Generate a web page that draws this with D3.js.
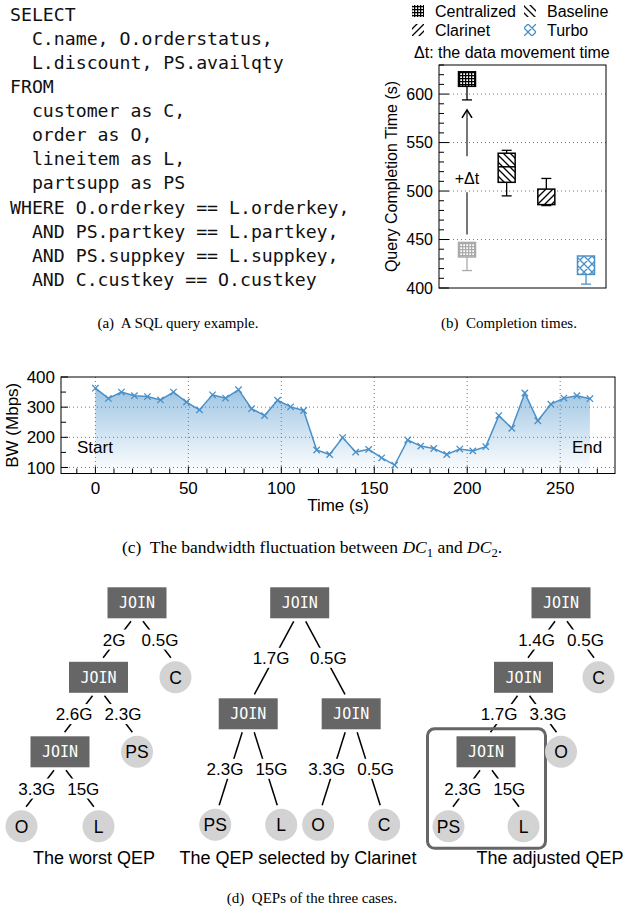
<!DOCTYPE html>
<html><head><meta charset="utf-8">
<script src="https://cdn.jsdelivr.net/npm/d3@7"></script>
<style>body{margin:0;background:#fff} svg{display:block}</style>
</head><body>
<svg id="c" width="624" height="911"></svg>
<script>
// ---------------- DATA ----------------
const sqlLines = [
  "SELECT",
  "  C.name, O.orderstatus,",
  "  L.discount, PS.availqty",
  "FROM",
  "  customer as C,",
  "  order as O,",
  "  lineitem as L,",
  "  partsupp as PS",
  "WHERE O.orderkey == L.orderkey,",
  "  AND PS.partkey == L.partkey,",
  "  AND PS.suppkey == L.suppkey,",
  "  AND C.custkey == O.custkey"
];

// (b) completion times (s)
const boxSeries = ["Centralized", "Baseline", "Clarinet", "Turbo"];
const boxMin = [594, 495, 485, 404];
const boxQ1  = [608, 509, 486, 414];
const boxMed = [null, 525, null, null];
const boxQ3  = [623, 539, 502, 433];
const boxMax = [623, 542, 513, 433];
// Centralized without the data movement time (grey box)
const noMoveMin = 418, noMoveQ1 = 432, noMoveQ3 = 447, noMoveMax = 447;
const boxTicks = [400, 450, 500, 550, 600];
const legendLabels = ["Centralized", "Baseline", "Clarinet", "Turbo"];

// (c) bandwidth fluctuation
const bwTime = [0,7,14,21,28,35,42,49,56,63,70,77,84,91,98,105,112,119,126,133,140,147,154,161,168,175,182,189,196,203,210,217,224,231,238,245,252,259,266];
const bwValue = [363,329,350,338,335,324,350,317,291,341,330,358,295,272,323,301,289,158,143,199,151,160,132,108,191,171,163,143,161,155,169,272,230,347,255,310,330,338,328];
const bwYTicks = [100, 200, 300, 400];
const bwXTicks = [0, 50, 100, 150, 200, 250];

// (d) query execution plans
const worstQEP = {name:"JOIN", children:[
  {name:"JOIN", w:"2G", children:[
    {name:"JOIN", w:"2.6G", children:[{name:"O", w:"3.3G"}, {name:"L", w:"15G"}]},
    {name:"PS", w:"2.3G"}]},
  {name:"C", w:"0.5G"}]};
const clarinetQEP = {name:"JOIN", children:[
  {name:"JOIN", w:"1.7G", children:[{name:"PS", w:"2.3G"}, {name:"L", w:"15G"}]},
  {name:"JOIN", w:"0.5G", children:[{name:"O", w:"3.3G"}, {name:"C", w:"0.5G"}]}]};
const adjustedQEP = {name:"JOIN", children:[
  {name:"JOIN", w:"1.4G", children:[
    {name:"JOIN", w:"1.7G", boxed:true, children:[{name:"PS", w:"2.3G"}, {name:"L", w:"15G"}]},
    {name:"O", w:"3.3G"}]},
  {name:"C", w:"0.5G"}]};
const qepTrees = [worstQEP, clarinetQEP, adjustedQEP];
const qepTitles = ["The worst QEP", "The QEP selected by Clarinet", "The adjusted QEP"];

// ---------------- STYLE ----------------
const SANS = '"Liberation Sans", Arial, Helvetica, sans-serif';
const MONO = '"DejaVu Sans Mono", monospace';
const SERIF = '"Liberation Serif", "Times New Roman", serif';
const BLUE = "#4a90c8";

const svg = d3.select("#c");
const defs = svg.append("defs");

function gridPattern(id, col) {
  const p = defs.append("pattern").attr("id", id).attr("patternUnits", "userSpaceOnUse")
    .attr("width", 3).attr("height", 3);
  p.append("rect").attr("width", 3).attr("height", 3).attr("fill", "#fff");
  p.append("path").attr("d", "M0,0.6H3M0.6,0V3").attr("stroke", col).attr("stroke-width", 1.3);
}
gridPattern("gridBlack", "#000");
gridPattern("gridGrey", "#aaa");
function hatch(id, d, col, size) {
  const p = defs.append("pattern").attr("id", id).attr("patternUnits", "userSpaceOnUse")
    .attr("width", size).attr("height", size);
  p.append("rect").attr("width", size).attr("height", size).attr("fill", "#fff");
  p.append("path").attr("d", d).attr("stroke", col).attr("stroke-width", 1.3).attr("fill", "none");
}
hatch("hatchBack", "M0,0L7,7M-1,6L1,8M6,-1L8,1", "#000", 7);
hatch("hatchFwd", "M0,7L7,0M-1,1L1,-1M6,8L8,6", "#000", 7);
hatch("crossBlue", "M0,0L8,8M0,8L8,0M-1,7L1,9M7,-1L9,1M-1,1L1,-1M7,9L9,7", BLUE, 8);
const boxFills = ["url(#gridBlack)", "url(#hatchBack)", "url(#hatchFwd)", "url(#crossBlue)"];
const boxStrokes = ["#000", "#000", "#000", BLUE];

// ---------------- (a) SQL ----------------
const sqlY = d3.scaleLinear().domain([0, 1]).range([20.7, 44.8]);
svg.append("g").selectAll("text").data(sqlLines).join("text")
  .attr("x", 10).attr("y", (d, i) => sqlY(i))
  .attr("font-family", MONO).attr("font-size", 18.2).attr("fill", "#111")
  .style("white-space", "pre").attr("xml:space", "preserve")
  .text(d => d);

// ---------------- (b) box plot ----------------
const bL = 439, bR = 606, bT = 65, bB = 288;
const yBox = d3.scaleLinear().domain([400, 630]).range([bB, bT]);
const xBox = d3.scalePoint().domain(boxSeries).range([467, 586]);
const gb = svg.append("g");
gb.selectAll("line.grid").data(boxTicks.filter(t => t > 400)).join("line")
  .attr("x1", bL + 10).attr("x2", bR).attr("y1", d => yBox(d)).attr("y2", d => yBox(d))
  .attr("stroke", "#777").attr("stroke-width", 1).attr("stroke-dasharray", "1,3");
gb.selectAll("line.minor").data(d3.range(410, 631, 10).filter(v => v % 50 !== 0)).join("line")
  .attr("x1", bL).attr("x2", bL + 5).attr("y1", d => yBox(d)).attr("y2", d => yBox(d))
  .attr("stroke", "#000");
gb.selectAll("line.major").data(boxTicks).join("line")
  .attr("x1", bL).attr("x2", bL + 10).attr("y1", d => yBox(d)).attr("y2", d => yBox(d))
  .attr("stroke", "#000");
gb.selectAll("text.tick").data(boxTicks).join("text")
  .attr("x", bL - 6).attr("y", d => yBox(d)).attr("dy", "0.36em")
  .attr("text-anchor", "end").attr("font-family", SANS).attr("font-size", 16).text(d => d);
gb.append("rect").attr("x", bL).attr("y", bT).attr("width", bR - bL).attr("height", bB - bT)
  .attr("fill", "none").attr("stroke", "#000").attr("stroke-width", 1);
gb.append("text").attr("transform", `translate(391,${(bT + bB) / 2}) rotate(-90)`)
  .attr("text-anchor", "middle").attr("dy", "0.36em")
  .attr("font-family", SANS).attr("font-size", 16).text("Query Completion Time (s)");

const bw2 = 8.5;
function drawBox(cx, mn, q1, md, q3, mx, fill, stroke) {
  const g = gb.append("g");
  g.append("line").attr("x1", cx).attr("x2", cx).attr("y1", yBox(mn)).attr("y2", yBox(q1))
    .attr("stroke", stroke).attr("stroke-width", 1.3);
  g.append("line").attr("x1", cx - 5).attr("x2", cx + 5).attr("y1", yBox(mn)).attr("y2", yBox(mn))
    .attr("stroke", stroke).attr("stroke-width", 1.3);
  if (mx > q3) {
    g.append("line").attr("x1", cx).attr("x2", cx).attr("y1", yBox(mx)).attr("y2", yBox(q3))
      .attr("stroke", stroke).attr("stroke-width", 1.3);
    g.append("line").attr("x1", cx - 5).attr("x2", cx + 5).attr("y1", yBox(mx)).attr("y2", yBox(mx))
      .attr("stroke", stroke).attr("stroke-width", 1.3);
  }
  g.append("rect").attr("x", cx - bw2).attr("y", yBox(q3)).attr("width", bw2 * 2)
    .attr("height", yBox(q1) - yBox(q3)).attr("fill", fill).attr("stroke", stroke).attr("stroke-width", 1.5);
  if (md != null) g.append("line").attr("x1", cx - bw2).attr("x2", cx + bw2)
    .attr("y1", yBox(md)).attr("y2", yBox(md)).attr("stroke", stroke).attr("stroke-width", 1.5);
}
boxSeries.forEach((s, i) => drawBox(xBox(s), boxMin[i], boxQ1[i], boxMed[i], boxQ3[i], boxMax[i], boxFills[i], boxStrokes[i]));
drawBox(xBox("Centralized"), noMoveMin, noMoveQ1, null, noMoveQ3, noMoveMax, "url(#gridGrey)", "#aaa");

{
  const ax = xBox("Centralized");
  const y0 = yBox(noMoveMax) - 8, y1 = yBox(boxMin[0]) + 10;
  const ly = (y0 + y1) / 2 + 6;
  gb.append("line").attr("x1", ax).attr("x2", ax).attr("y1", y0).attr("y2", ly + 14)
    .attr("stroke", "#777").attr("stroke-width", 2);
  gb.append("line").attr("x1", ax).attr("x2", ax).attr("y1", ly - 22).attr("y2", y1 + 1)
    .attr("stroke", "#777").attr("stroke-width", 2);
  gb.append("path").attr("d", `M${ax - 5},${y1 + 8}L${ax},${y1}L${ax + 5},${y1 + 8}`)
    .attr("fill", "none").attr("stroke", "#000").attr("stroke-width", 1.6);
  gb.append("text").attr("x", ax).attr("y", ly).attr("dy", "0.36em").attr("text-anchor", "middle")
    .attr("font-family", SANS).attr("font-size", 16).text("+Δt");
}

const legPos = [[418, 11], [530, 11], [418, 30], [530, 30]];
const legFill = ["url(#gridBlack)", "url(#hatchBack)", "url(#hatchFwd)", "url(#crossBlue)"];
const gl = svg.append("g");
legendLabels.forEach((l, i) => {
  const [x, y] = legPos[i];
  gl.append("rect").attr("x", x - 6).attr("y", y - 6).attr("width", 12).attr("height", 12)
    .attr("fill", legFill[i]);
  gl.append("text").attr("x", x + 17).attr("y", y).attr("dy", "0.36em")
    .attr("font-family", SANS).attr("font-size", 16).text(l);
});
gl.append("text").attr("x", 414).attr("y", 52).attr("dy", "0.36em")
  .attr("font-family", SANS).attr("font-size", 16).text("Δt: the data movement time");

function caption(x, y, label, parts, fs) {
  const t = svg.append("text").attr("x", x).attr("y", y).attr("text-anchor", "middle")
    .attr("font-family", SERIF).attr("font-size", fs).attr("xml:space", "preserve").style("white-space", "pre");
  t.append("tspan").text(label + "  ");
  parts.forEach(p => {
    const s = t.append("tspan").text(p.t);
    if (p.i) s.attr("font-style", "italic");
    if (p.sub) s.attr("font-size", fs * 0.72).attr("dy", fs * 0.22);
    if (p.up) s.attr("dy", -fs * 0.22);
  });
}
caption(178, 328, "(a)", [{t: "A SQL query example."}], 15);
caption(509, 328, "(b)", [{t: "Completion times."}], 15);

// ---------------- (c) bandwidth ----------------
const cL = 61, cR = 615, cT = 377, cB = 473.5;
const xBW = d3.scaleLinear().domain([-18.5, 279.5]).range([cL, cR]);
const yBW = d3.scaleLinear().domain([80, 400]).range([cB, cT]);
const gc = svg.append("g");
const grad = defs.append("linearGradient").attr("id", "bwGrad").attr("gradientUnits", "userSpaceOnUse")
  .attr("x1", 0).attr("x2", 0).attr("y1", yBW(370)).attr("y2", yBW(80));
grad.append("stop").attr("offset", 0).attr("stop-color", "#9ac3e2");
grad.append("stop").attr("offset", 1).attr("stop-color", "#ffffff");
const pts = bwTime.map((t, i) => [t, bwValue[i]]);
gc.append("path").datum(pts)
  .attr("d", d3.area().x(d => xBW(d[0])).y0(yBW(80)).y1(d => yBW(d[1])))
  .attr("fill", "url(#bwGrad)");
gc.selectAll("line.gx").data(bwXTicks).join("line")
  .attr("x1", d => xBW(d)).attr("x2", d => xBW(d)).attr("y1", cT).attr("y2", cB)
  .attr("stroke", "#777").attr("stroke-dasharray", "1,3");
gc.selectAll("line.gy").data(bwYTicks.filter(v => v < 400)).join("line")
  .attr("x1", cL).attr("x2", cR).attr("y1", d => yBW(d)).attr("y2", d => yBW(d))
  .attr("stroke", "#777").attr("stroke-dasharray", "1,3");
gc.selectAll("line.mx").data(d3.range(-10, 280, 10)).join("line")
  .attr("x1", d => xBW(d)).attr("x2", d => xBW(d)).attr("y1", cB)
  .attr("y2", d => cB - (d % 50 === 0 ? 7 : 5)).attr("stroke", "#000");
gc.selectAll("line.my").data(d3.range(100, 401, 50)).join("line")
  .attr("x1", cL).attr("x2", d => cL + (d % 100 === 0 ? 7 : 5))
  .attr("y1", d => yBW(d)).attr("y2", d => yBW(d)).attr("stroke", "#000");
gc.selectAll("text.tx").data(bwXTicks).join("text")
  .attr("x", d => xBW(d)).attr("y", 494).attr("text-anchor", "middle")
  .attr("font-family", SANS).attr("font-size", 17).text(d => d);
gc.selectAll("text.ty").data(bwYTicks).join("text")
  .attr("x", cL - 6).attr("y", d => yBW(d)).attr("dy", "0.36em").attr("text-anchor", "end")
  .attr("font-family", SANS).attr("font-size", 17).text(d => d);
gc.append("rect").attr("x", cL).attr("y", cT).attr("width", cR - cL).attr("height", cB - cT)
  .attr("fill", "none").attr("stroke", "#000");
gc.append("path").datum(pts).attr("d", d3.line().x(d => xBW(d[0])).y(d => yBW(d[1])))
  .attr("fill", "none").attr("stroke", BLUE).attr("stroke-width", 1.5);
gc.selectAll("path.mk").data(pts).join("path")
  .attr("d", d => { const x = xBW(d[0]), y = yBW(d[1]);
    return `M${x - 3.2},${y - 3.2}L${x + 3.2},${y + 3.2}M${x - 3.2},${y + 3.2}L${x + 3.2},${y - 3.2}`; })
  .attr("stroke", BLUE).attr("stroke-width", 1.3);
gc.append("text").attr("x", 77).attr("y", 453).attr("font-family", SANS).attr("font-size", 17).text("Start");
gc.append("text").attr("x", 572).attr("y", 453).attr("font-family", SANS).attr("font-size", 17).text("End");
gc.append("text").attr("x", (cL + cR) / 2).attr("y", 511).attr("text-anchor", "middle")
  .attr("font-family", SANS).attr("font-size", 17).text("Time (s)");
gc.append("text").attr("transform", `translate(12,${(cT + cB) / 2}) rotate(-90)`)
  .attr("text-anchor", "middle").attr("dy", "0.36em")
  .attr("font-family", SANS).attr("font-size", 17).text("BW (Mbps)");
caption(312, 553, "(c)", [{t: "The bandwidth fluctuation between "}, {t: "DC", i: true}, {t: "1", sub: true},
  {t: " and ", up: true}, {t: "DC", i: true}, {t: "2", sub: true}, {t: ".", up: true}], 17.5);

// ---------------- (d) QEP trees ----------------
const qepLayout = [
  {rootX: 137, rootY: 602.8, dx: 77, dy: 74.5, sep: 1, titleX: 94},
  {rootX: 299.7, rootY: 602.8, dx: 66, dy: 111, sep: 0.56, titleX: 298},
  {rootX: 561, rootY: 602.8, dx: 75, dy: 74.5, sep: 1, titleX: 550}
];
qepTrees.forEach((tree, ti) => {
  const cfg = qepLayout[ti];
  const root = d3.hierarchy(tree);
  d3.tree().nodeSize([cfg.dx, cfg.dy]).separation((a, b) => a.parent === b.parent ? 1 : cfg.sep)(root);
  const X = d => cfg.rootX + d.x, Y = d => cfg.rootY + d.y;
  const g = svg.append("g");
  const links = root.links().map(l => {
    const px = X(l.source), py = Y(l.source), cx = X(l.target), cy = Y(l.target);
    const s = Math.sign(cx - px);
    const x1 = px + s * 6, y1 = py + 18.5, x2 = cx + (px - cx) * 0.12, y2 = cy - 19.5;
    return {x1, y1, x2, y2, s, w: l.target.data.w, lx: (x1 + x2) / 2 + s * 3, ly: (y1 + y2) / 2};
  });
  g.selectAll("line.e").data(links).join("line")
    .attr("x1", d => d.x1).attr("y1", d => d.y1).attr("x2", d => d.x2).attr("y2", d => d.y2)
    .attr("stroke", "#000").attr("stroke-width", 1.5);
  root.descendants().filter(d => d.data.boxed).forEach(n => {
    const ds = n.descendants();
    const x0 = d3.min(ds, X) - 21, x1 = d3.max(ds, X) + 22;
    const y0 = Y(n) - 23, y1 = d3.max(ds, Y) + 22;
    g.append("rect").attr("x", x0).attr("y", y0).attr("width", x1 - x0).attr("height", y1 - y0)
      .attr("rx", 7).attr("fill", "none").attr("stroke", "#666").attr("stroke-width", 3);
  });
  const lab = g.selectAll("g.lab").data(links).join("g");
  lab.append("rect").attr("fill", "#fff");
  lab.append("text").attr("text-anchor", "middle").attr("dy", "0.36em")
    .attr("font-family", SANS).attr("font-size", 17).text(d => d.w);
  lab.each(function(d) { d.wd = d3.select(this).select("text").node().getComputedTextLength(); });
  // spread labels on the same row that are too close
  const rows = d3.groups(links, d => Math.round(d.ly));
  rows.forEach(([, arr]) => {
    arr.sort((a, b) => a.lx - b.lx);
    for (let i = 1; i < arr.length; i++) {
      const a = arr[i - 1], b = arr[i];
      const gap = (b.lx - b.wd / 2) - (a.lx + a.wd / 2);
      if (gap < 12) { const push = (12 - gap) / 2; a.lx -= push; b.lx += push; }
    }
  });
  lab.attr("transform", d => `translate(${d.lx},${d.ly})`);
  lab.select("rect").attr("x", d => -d.wd / 2 - 1).attr("width", d => d.wd + 2).attr("y", -10).attr("height", 20);
  const nodes = g.selectAll("g.n").data(root.descendants()).join("g")
    .attr("transform", d => `translate(${X(d)},${Y(d)})`);
  nodes.filter(d => d.children).append("rect").attr("x", -29.5).attr("y", -15.5)
    .attr("width", 59).attr("height", 31).attr("fill", "#666");
  nodes.filter(d => d.children).append("text").attr("text-anchor", "middle").attr("dy", "0.36em")
    .attr("font-family", MONO).attr("font-size", 15).attr("fill", "#fff").text(d => d.data.name);
  nodes.filter(d => !d.children).append("circle").attr("r", 16).attr("fill", "#d3d3d3");
  nodes.filter(d => !d.children).append("text").attr("text-anchor", "middle").attr("dy", "0.36em")
    .attr("font-family", SANS).attr("font-size", 17.5).text(d => d.data.name);
  svg.append("text").attr("x", cfg.titleX).attr("y", 864).attr("text-anchor", "middle")
    .attr("font-family", SANS).attr("font-size", 18).text(qepTitles[ti]);
});
caption(312, 903, "(d)", [{t: "QEPs of the three cases."}], 15);
</script>
</body></html>
